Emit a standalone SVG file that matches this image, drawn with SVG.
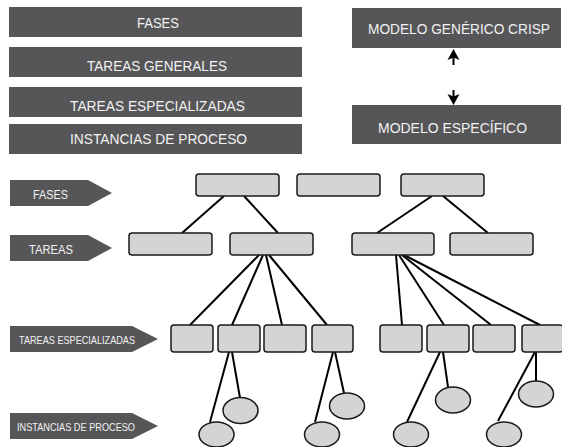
<svg xmlns="http://www.w3.org/2000/svg" width="562" height="447" viewBox="0 0 562 447">
  <style>
    .bar { fill: #565658; }
    .lbl { fill: #f2f2f2; font-family: "Liberation Sans", "Open Sans", sans-serif; }
    .big { font-size: 15px; }
    .mid { font-size: 12.5px; }
    .sm { font-size: 10.5px; }
    .box { fill: #d4d4d6; stroke: #1a1a1a; stroke-width: 1.5; }
    .inst { fill: #d4d4d6; stroke: #1a1a1a; stroke-width: 1.5; }
    .link { stroke: #000; stroke-width: 2; fill: none; }
  </style>

  <!-- legend bars -->
  <g id="legend-fases">
    <rect class="bar" x="9" y="7" width="293" height="30"/>
    <text class="lbl big" x="158" y="28" text-anchor="middle" textLength="42" lengthAdjust="spacingAndGlyphs">FASES</text>
  </g>
  <g id="legend-tareas-generales">
    <rect class="bar" x="9" y="47" width="293" height="30"/>
    <text class="lbl big" x="157" y="71" text-anchor="middle" textLength="140" lengthAdjust="spacingAndGlyphs">TAREAS GENERALES</text>
  </g>
  <g id="legend-tareas-especializadas">
    <rect class="bar" x="9" y="87" width="293" height="30"/>
    <text class="lbl big" x="157.5" y="111" text-anchor="middle" textLength="175" lengthAdjust="spacingAndGlyphs">TAREAS ESPECIALIZADAS</text>
  </g>
  <g id="legend-instancias">
    <rect class="bar" x="9" y="124" width="293" height="30"/>
    <text class="lbl big" x="158.5" y="144" text-anchor="middle" textLength="177" lengthAdjust="spacingAndGlyphs">INSTANCIAS DE PROCESO</text>
  </g>

  <!-- model boxes -->
  <g id="modelo-generico">
    <rect class="bar" x="352" y="8" width="209" height="40"/>
    <text class="lbl" font-size="14" x="459" y="34" text-anchor="middle" textLength="182" lengthAdjust="spacingAndGlyphs">MODELO GENÉRICO CRISP</text>
  </g>
  <g id="modelo-especifico">
    <rect class="bar" x="352" y="105" width="209" height="39"/>
    <text class="lbl big" x="452.5" y="133" text-anchor="middle" textLength="149" lengthAdjust="spacingAndGlyphs">MODELO ESPECÍFICO</text>
  </g>

  <!-- level tags -->
  <g id="tag-fases">
    <polygon class="bar" points="10,180 88,180 112,193 88,206 10,206"/>
    <text class="lbl mid" x="50.5" y="199" text-anchor="middle" textLength="35" lengthAdjust="spacingAndGlyphs">FASES</text>
  </g>
  <g id="tag-tareas">
    <polygon class="bar" points="10,235 88,235 112,248 88,261 10,261"/>
    <text class="lbl mid" x="51" y="254" text-anchor="middle" textLength="44" lengthAdjust="spacingAndGlyphs">TAREAS</text>
  </g>
  <g id="tag-tareas-esp">
    <polygon class="bar" points="10,326 132,326 158,339 132,352 10,352"/>
    <text class="lbl sm" x="77" y="344" text-anchor="middle" textLength="116" lengthAdjust="spacingAndGlyphs">TAREAS ESPECIALIZADAS</text>
  </g>
  <g id="tag-instancias">
    <polygon class="bar" points="10,413 132,413 158,426 132,439 10,439"/>
    <text class="lbl sm" x="76" y="431" text-anchor="middle" textLength="118" lengthAdjust="spacingAndGlyphs">INSTANCIAS DE PROCESO</text>
  </g>

  <!-- connectors -->
  <g id="connectors">
    <!-- generic / specific arrows -->
    <line x1="453.5" y1="56" x2="453.5" y2="65" stroke="#000" stroke-width="2"/>
    <polygon points="447.5,60 453.5,49 459.5,60 453.5,57.5" fill="#000"/>
    <line x1="453.5" y1="90" x2="453.5" y2="99" stroke="#000" stroke-width="2"/>
    <polygon points="447.5,94 453.5,96.5 459.5,94 453.5,105" fill="#000"/>

    <!-- phases to tasks -->
    <line class="link" x1="224" y1="196" x2="182" y2="233"/>
    <line class="link" x1="244" y1="196" x2="278" y2="233"/>
    <line class="link" x1="432" y1="196" x2="377" y2="233"/>
    <line class="link" x1="443" y1="196" x2="488" y2="233"/>

    <!-- tasks to specialised tasks -->
    <line class="link" x1="259" y1="255" x2="190" y2="325"/>
    <line class="link" x1="263" y1="255" x2="232" y2="325"/>
    <line class="link" x1="266" y1="255" x2="282" y2="325"/>
    <line class="link" x1="269" y1="255" x2="327" y2="325"/>
    <line class="link" x1="396" y1="255" x2="402" y2="325"/>
    <line class="link" x1="399" y1="255" x2="444" y2="325"/>
    <line class="link" x1="402" y1="255" x2="491" y2="325"/>
    <line class="link" x1="404" y1="255" x2="540" y2="325"/>

    <!-- specialised tasks to process instances -->
    <line class="link" x1="229" y1="352" x2="210" y2="422"/>
    <line class="link" x1="232" y1="352" x2="240" y2="398"/>
    <line class="link" x1="333" y1="352" x2="315" y2="422"/>
    <line class="link" x1="335" y1="352" x2="344" y2="393"/>
    <line class="link" x1="440" y1="352" x2="407" y2="422"/>
    <line class="link" x1="443" y1="352" x2="448" y2="387"/>
    <line class="link" x1="535" y1="352" x2="498" y2="421"/>
    <line class="link" x1="536" y1="352" x2="536" y2="381"/>
  </g>

  <!-- phases -->
  <g id="fase-1"><rect class="box" x="196" y="174" width="83" height="22" rx="3"/></g>
  <g id="fase-2"><rect class="box" x="297" y="174" width="83" height="22" rx="3"/></g>
  <g id="fase-3"><rect class="box" x="401" y="174" width="83" height="22" rx="3"/></g>

  <!-- tasks -->
  <g id="tarea-1"><rect class="box" x="129" y="233" width="83" height="22" rx="3"/></g>
  <g id="tarea-2"><rect class="box" x="230" y="233" width="83" height="22" rx="3"/></g>
  <g id="tarea-3"><rect class="box" x="352" y="233" width="82" height="22" rx="3"/></g>
  <g id="tarea-4"><rect class="box" x="450" y="233" width="83" height="22" rx="3"/></g>

  <!-- specialised tasks -->
  <g id="esp-1"><rect class="box" x="171" y="325" width="42" height="27" rx="3"/></g>
  <g id="esp-2"><rect class="box" x="218" y="325" width="42" height="27" rx="3"/></g>
  <g id="esp-3"><rect class="box" x="264" y="325" width="42" height="27" rx="3"/></g>
  <g id="esp-4"><rect class="box" x="312" y="325" width="41" height="27" rx="3"/></g>
  <g id="esp-5"><rect class="box" x="380" y="325" width="42" height="27" rx="3"/></g>
  <g id="esp-6"><rect class="box" x="427" y="325" width="42" height="27" rx="3"/></g>
  <g id="esp-7"><rect class="box" x="473" y="325" width="42" height="27" rx="3"/></g>
  <g id="esp-8"><rect class="box" x="522" y="325" width="41" height="27" rx="3"/></g>

  <!-- process instances -->
  <g id="inst-1"><ellipse class="inst" cx="240.5" cy="410.5" rx="17.5" ry="13"/></g>
  <g id="inst-2"><ellipse class="inst" cx="216.5" cy="434.5" rx="17.5" ry="12.5"/></g>
  <g id="inst-3"><ellipse class="inst" cx="347" cy="406" rx="17.5" ry="13"/></g>
  <g id="inst-4"><ellipse class="inst" cx="322" cy="434.5" rx="17.5" ry="12.5"/></g>
  <g id="inst-5"><ellipse class="inst" cx="453" cy="400" rx="17.5" ry="13"/></g>
  <g id="inst-6"><ellipse class="inst" cx="411" cy="434.5" rx="17.5" ry="12.5"/></g>
  <g id="inst-7"><ellipse class="inst" cx="536" cy="394" rx="17.5" ry="13"/></g>
  <g id="inst-8"><ellipse class="inst" cx="504" cy="434.5" rx="17.5" ry="12.5"/></g>
</svg>
